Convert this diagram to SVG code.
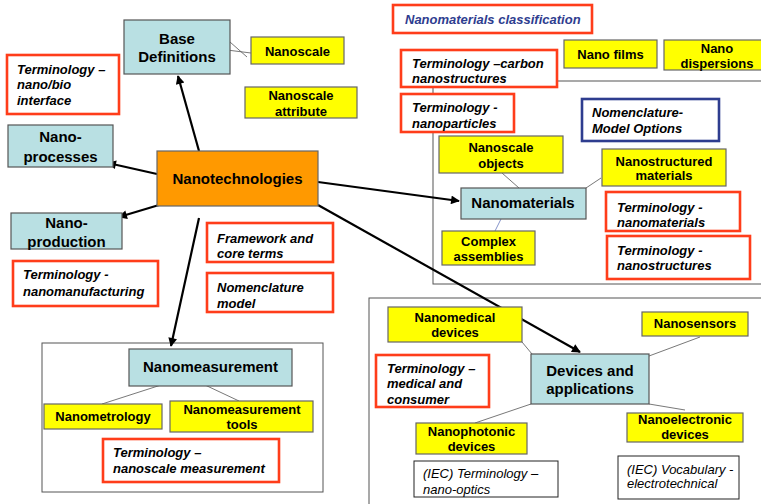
<svg xmlns="http://www.w3.org/2000/svg" width="761" height="504" viewBox="0 0 761 504">
<defs>
<style>
.bg{fill:#ffffff}
.frame{fill:none;stroke:#555;stroke-width:1}
.blue{fill:#b9e0e3;stroke:#555;stroke-width:1.2}
.orange{fill:#ff9900;stroke:#666;stroke-width:1.2}
.yel{fill:#ffff00;stroke:#666;stroke-width:1.2}
.red{fill:#ffffff;stroke:#ff3d1a;stroke-width:2.6}
.navy{fill:#ffffff;stroke:#2e3d8f;stroke-width:2.6}
.plain{fill:#ffffff;stroke:#222;stroke-width:1}
text{font-family:"Liberation Sans",Arial,sans-serif;font-weight:bold;fill:#000}
.t15{font-size:15px;text-anchor:middle}
.t13{font-size:13px;text-anchor:middle}
.it{font-size:13px;font-style:italic}
.itn{font-size:13px;font-style:italic;font-weight:normal}
.arrow{stroke:#000;stroke-width:2.2;fill:none;marker-end:url(#ah)}
.thin{stroke:#555;stroke-width:0.8;fill:none}
</style>
<marker id="ah" viewBox="0 0 10 10" refX="9" refY="5" markerWidth="5" markerHeight="4" orient="auto" markerUnits="strokeWidth">
<path d="M0,0 L10,5 L0,10 z" fill="#000"/>
</marker>
</defs>
<rect class="bg" x="0" y="0" width="761" height="504"/>

<g id="frames">
<rect class="frame" x="433" y="81" width="340" height="203"/>
<rect class="frame" x="369" y="298" width="400" height="220"/>
<rect class="frame" x="42" y="343" width="281" height="149"/>
</g>

<g id="connectors">
<line class="arrow" x1="199" y1="151" x2="178" y2="76"/>
<line class="arrow" x1="157" y1="174" x2="108" y2="163"/>
<line class="arrow" x1="159" y1="205" x2="119" y2="217"/>
<line class="arrow" x1="318" y1="182" x2="459" y2="201"/>
<line class="arrow" x1="318" y1="205" x2="580" y2="352"/>
<line class="arrow" x1="199" y1="218" x2="171" y2="346"/>
<line class="thin" x1="230" y1="42" x2="247" y2="57"/>
<line class="thin" x1="227" y1="50" x2="251" y2="53"/>
<line class="thin" x1="502" y1="173" x2="519" y2="188"/>
<line class="thin" x1="601" y1="178" x2="586" y2="188"/>
<line class="thin" x1="501" y1="219" x2="495" y2="231" style="stroke:#6677bb"/>
<line class="thin" x1="161" y1="385" x2="102" y2="404"/>
<line class="thin" x1="205" y1="385" x2="239" y2="401"/>
<line class="thin" x1="522" y1="342" x2="532" y2="354"/>
<line class="thin" x1="700" y1="337" x2="649" y2="356"/>
<line class="thin" x1="531" y1="404" x2="475" y2="423"/>
<line class="thin" x1="649" y1="404" x2="685" y2="410"/>
</g>

<g id="base-definitions"><rect class="blue" x="124" y="20" width="106" height="54"/><text class="t15" x="177" y="44">Base</text><text class="t15" x="177" y="62">Definitions</text></g>
<g id="nanoscale"><rect class="yel" x="251" y="37" width="93" height="27"/><text class="t13" x="297.5" y="55.5">Nanoscale</text></g>
<g id="nanoscale-attribute"><rect class="yel" x="245" y="87" width="112" height="31"/><text class="t13" x="301" y="99.5">Nanoscale</text><text class="t13" x="301" y="115.5">attribute</text></g>
<g id="term-nanobio"><rect class="red" x="7" y="55" width="112" height="59"/><text class="it" x="17" y="74">Terminology –</text><text class="it" x="17" y="89">nano/bio</text><text class="it" x="17" y="105">interface</text></g>
<g id="nano-processes"><rect class="blue" x="8" y="125" width="105" height="42"/><text class="t15" x="60.5" y="142">Nano-</text><text class="t15" x="60.5" y="162">processes</text></g>
<g id="nanotechnologies"><rect class="orange" x="157" y="151" width="161" height="55"/><text class="t15" x="237.5" y="184">Nanotechnologies</text></g>
<g id="nano-production"><rect class="blue" x="11" y="213" width="111" height="36"/><text class="t15" x="66.5" y="228">Nano-</text><text class="t15" x="66.5" y="247">production</text></g>
<g id="framework"><rect class="red" x="207" y="223" width="126" height="39"/><text class="it" x="217" y="242.5">Framework and</text><text class="it" x="217" y="257.5">core terms</text></g>
<g id="nomenclature-model"><rect class="red" x="207" y="273" width="126" height="39"/><text class="it" x="217" y="291.5">Nomenclature</text><text class="it" x="217" y="307.5">model</text></g>
<g id="term-nanomanufacturing"><rect class="red" x="13" y="261" width="145" height="45"/><text class="it" x="23" y="278.5">Terminology -</text><text class="it" x="23" y="295.5">nanomanufacturing</text></g>

<g id="nanomeasurement"><rect class="blue" x="129" y="349" width="163" height="37"/><text class="t15" x="210.5" y="372">Nanomeasurement</text></g>
<g id="nanometrology"><rect class="yel" x="44" y="404" width="118" height="25"/><text class="t13" x="103" y="420.5">Nanometrology</text></g>
<g id="nanomeasurement-tools"><rect class="yel" x="170" y="401" width="143" height="31"/><text class="t13" x="242" y="413.5">Nanomeasurement</text><text class="t13" x="242" y="428.5">tools</text></g>
<g id="term-nanoscale-measurement"><rect class="red" x="103" y="439" width="176" height="43"/><text class="it" x="113" y="456.5">Terminology –</text><text class="it" x="113" y="472.5">nanoscale measurement</text></g>

<g id="nanomaterials-classification"><rect class="red" x="393" y="5" width="199" height="28"/><text class="it" x="405" y="23.5" style="fill:#2e3d8f">Nanomaterials classification</text></g>
<g id="term-carbon"><rect class="red" x="401" y="50" width="156" height="37"/><text class="it" x="412" y="67.5">Terminology –carbon</text><text class="it" x="412" y="82.5">nanostructures</text></g>
<g id="nano-films"><rect class="yel" x="564" y="40" width="93" height="28"/><text class="t13" x="610.5" y="58.5">Nano films</text></g>
<g id="nano-dispersions"><rect class="yel" x="664" y="40" width="106" height="30"/><text class="t13" x="717" y="52.5">Nano</text><text class="t13" x="717" y="67.5">dispersions</text></g>
<g id="term-nanoparticles"><rect class="red" x="401" y="94" width="113" height="38"/><text class="it" x="412" y="111.5">Terminology -</text><text class="it" x="412" y="127.5">nanoparticles</text></g>
<g id="nomenclature-options"><rect class="navy" x="582" y="99" width="137" height="42"/><text class="it" x="592" y="116.5">Nomenclature-</text><text class="it" x="592" y="132.5">Model Options</text></g>
<g id="nanoscale-objects"><rect class="yel" x="439" y="136" width="124" height="37"/><text class="t13" x="501" y="151.5">Nanoscale</text><text class="t13" x="501" y="167.5">objects</text></g>
<g id="nanostructured-materials"><rect class="yel" x="602" y="149" width="124" height="37"/><text class="t13" x="664" y="165.5">Nanostructured</text><text class="t13" x="664" y="179.5">materials</text></g>
<g id="nanomaterials"><rect class="blue" x="461" y="188" width="125" height="31"/><text class="t15" x="523" y="208">Nanomaterials</text></g>
<g id="complex-assemblies"><rect class="yel" x="442" y="231" width="93" height="34"/><text class="t13" x="488.5" y="245.5">Complex</text><text class="t13" x="488.5" y="260.5">assemblies</text></g>
<g id="term-nanomaterials"><rect class="red" x="606" y="192" width="134" height="39"/><text class="it" x="617" y="211.5">Terminology -</text><text class="it" x="617" y="226.5">nanomaterials</text></g>
<g id="term-nanostructures"><rect class="red" x="607" y="236" width="143" height="43"/><text class="it" x="617" y="254.5">Terminology -</text><text class="it" x="617" y="269.5">nanostructures</text></g>

<g id="nanomedical-devices"><rect class="yel" x="388" y="307" width="134" height="35"/><text class="t13" x="455" y="321.5">Nanomedical</text><text class="t13" x="455" y="336.5">devices</text></g>
<g id="nanosensors"><rect class="yel" x="642" y="312" width="106" height="24"/><text class="t13" x="695" y="327.5">Nanosensors</text></g>
<g id="term-medical"><rect class="red" x="376" y="355" width="113" height="52"/><text class="it" x="387" y="372.5">Terminology –</text><text class="it" x="387" y="387.5">medical and</text><text class="it" x="387" y="403.5">consumer</text></g>
<g id="devices-applications"><rect class="blue" x="531" y="354" width="118" height="50"/><text class="t15" x="590" y="376">Devices and</text><text class="t15" x="590" y="394">applications</text></g>
<g id="nanophotonic-devices"><rect class="yel" x="416" y="423" width="111" height="31"/><text class="t13" x="471.5" y="435.5">Nanophotonic</text><text class="t13" x="471.5" y="450.5">devices</text></g>
<g id="nanoelectronic-devices"><rect class="yel" x="627" y="413" width="116" height="29"/><text class="t13" x="685" y="423.5">Nanoelectronic</text><text class="t13" x="685" y="438.5">devices</text></g>
<g id="iec-nano-optics"><rect class="plain" x="414" y="461" width="144" height="36"/><text class="itn" x="423" y="477.5">(IEC) Terminology –</text><text class="itn" x="423" y="493.5">nano-optics</text></g>
<g id="iec-vocabulary"><rect class="plain" x="618" y="456" width="121" height="43"/><text class="itn" x="627" y="473.5">(IEC) Vocabulary -</text><text class="itn" x="627" y="487.5">electrotechnical</text></g>
</svg>
